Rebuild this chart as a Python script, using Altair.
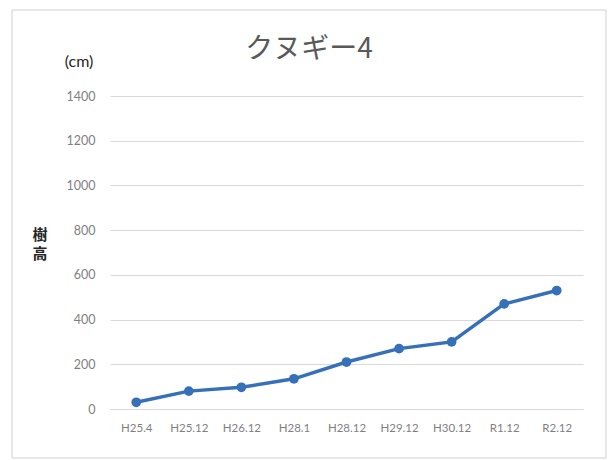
import altair as alt
import pandas as pd

TITLE = "クヌギー4"
UNIT = "(cm)"
Y_TITLE = ["樹", "高"]
categories = ["H25.4", "H25.12", "H26.12", "H28.1", "H28.12", "H29.12", "H30.12", "R1.12", "R2.12"]
heights = [30, 80, 97, 135, 210, 270, 300, 470, 530]
y_ticks = [0, 200, 400, 600, 800, 1000, 1200, 1400]

df = pd.DataFrame({"date": categories, "height": heights})

W, H = 473, 313
BLUE = "#3670b9"

base = alt.Chart(df).encode(
    x=alt.X("date:N", sort=categories,
            scale=alt.Scale(type="point", padding=0.5),
            axis=alt.Axis(title=None, labelAngle=0, labelFont="Lato", labelFontSize=11.5,
                          labelColor="#7f7f7f", labelPadding=13, ticks=False,
                          domain=True, domainColor="#d9d9d9", domainWidth=1)),
    y=alt.Y("height:Q", scale=alt.Scale(domain=[0, 1400], nice=False),
            axis=alt.Axis(values=y_ticks, format="d", title=None,
                          labelFont="Lato", labelFontSize=12.5, labelColor="#7f7f7f",
                          labelPadding=15, ticks=False, domain=False,
                          grid=True, gridColor="#d9d9d9", gridWidth=1)),
)

line = base.mark_line(color=BLUE, strokeWidth=3.5)
pts = base.mark_circle(color=BLUE, size=95, opacity=1)

border = alt.Chart(pd.DataFrame({"a": [0]})).mark_rect(
    fill="transparent", stroke="#d0d0d0", strokeWidth=1
).encode(x=alt.value(-98), x2=alt.value(496), y=alt.value(-86), y2=alt.value(362))

title = alt.Chart(pd.DataFrame({"t": [TITLE]})).mark_text(
    font="Noto Sans CJK JP", fontSize=28, color="#595959", align="center", baseline="alphabetic"
).encode(text="t:N", x=alt.value(199), y=alt.value(-38))

unit = alt.Chart(pd.DataFrame({"t": [UNIT]})).mark_text(
    font="Lato", fontSize=16, color="#262626", align="center", baseline="middle"
).encode(text="t:N", x=alt.value(-31), y=alt.value(-34))

ytitle_layers = []
for i, ch in enumerate(Y_TITLE):
    ytitle_layers.append(
        alt.Chart(pd.DataFrame({"t": [ch]})).mark_text(
            font="Noto Sans CJK JP", fontSize=15, fontWeight="bold", color="#262626",
            align="center", baseline="middle"
        ).encode(text="t:N", x=alt.value(-70), y=alt.value(139 + 19 * i))
    )

chart = alt.layer(border, line, pts, title, unit, *ytitle_layers).properties(
    width=W, height=H,
    autosize=alt.AutoSizeParams(type="none"),
    padding={"left": 110, "top": 96, "right": 25, "bottom": 51},
    background="white",
).configure_view(stroke=None)

chart.save("out.html", embed_options={"renderer": "svg", "actions": False})
